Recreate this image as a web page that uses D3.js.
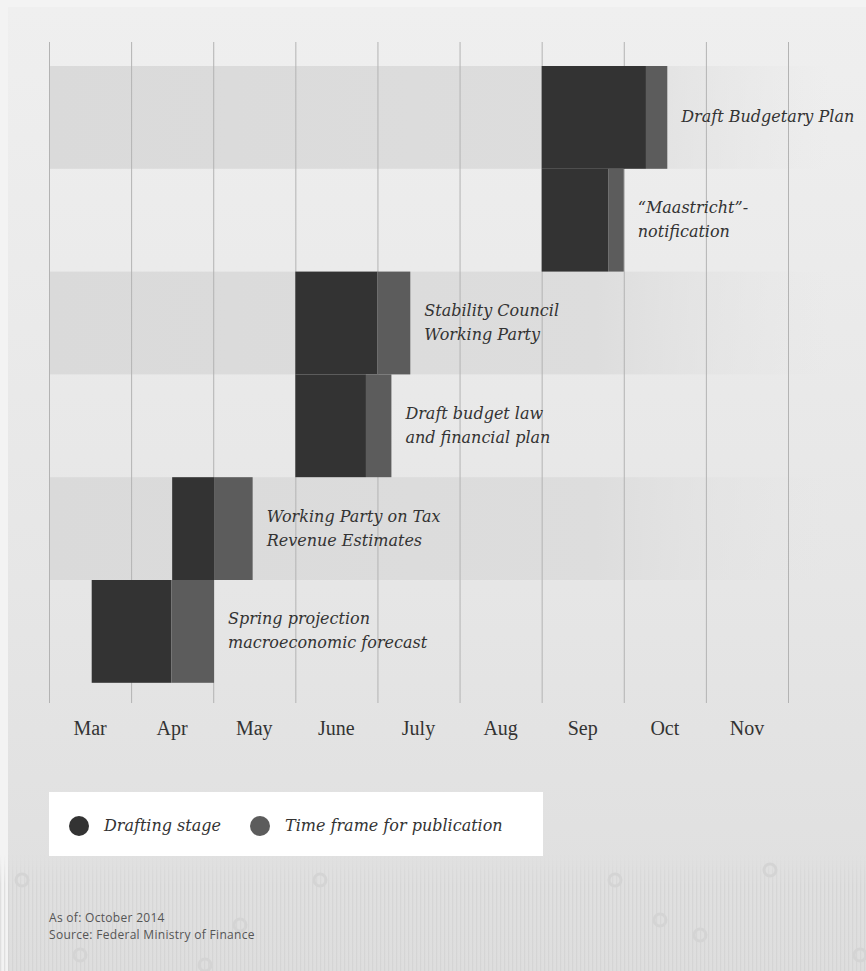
<!DOCTYPE html>
<html><head><meta charset="utf-8">
<script src="https://cdn.jsdelivr.net/npm/d3@7"></script>
<style>body{margin:0;background:#f4f4f4;}svg{display:block;}</style>
</head><body>
<script>
// ---- data (months: 0 = start of March) ----
const months = ["Mar","Apr","May","June","July","Aug","Sep","Oct","Nov"];
const tasks = ["Draft Budgetary Plan","\u201cMaastricht\u201d-|notification","Stability Council|Working Party","Draft budget law|and financial plan","Working Party on Tax|Revenue Estimates","Spring projection|macroeconomic forecast"];
const draftStart = [6.0, 6.0, 3.0, 3.0, 1.5, 0.52];
const draftEnd   = [7.27, 6.81, 4.0, 3.86, 2.01, 1.49];
const pubEnd     = [7.53, 7.0, 4.4, 4.17, 2.48, 2.01];
const legendLabels = ["Drafting stage","Time frame for publication"];
const footer = ["As of: October 2014","Source: Federal Ministry of Finance"];

const W = 866, H = 971;
const svg = d3.select("body").append("svg").attr("width", W).attr("height", H);
const defs = svg.append("defs");

// background
const bg = defs.append("linearGradient").attr("id","bg").attr("x1",0).attr("y1",0).attr("x2",0).attr("y2",1);
bg.append("stop").attr("offset","0%").attr("stop-color","#efefef");
bg.append("stop").attr("offset","60%").attr("stop-color","#e6e6e6");
bg.append("stop").attr("offset","100%").attr("stop-color","#dedede");
svg.append("rect").attr("width",W).attr("height",H).attr("fill","#f3f3f3");
svg.append("rect").attr("x",8).attr("y",7).attr("width",W-8).attr("height",H-7).attr("fill","url(#bg)");

// striped texture at bottom
const pat = defs.append("pattern").attr("id","stripes").attr("width",4).attr("height",10).attr("patternUnits","userSpaceOnUse");
pat.append("rect").attr("width",1.3).attr("height",10).attr("fill","#cfcfcf");
const fadeG = defs.append("linearGradient").attr("id","fadeStripe").attr("x1",0).attr("y1",0).attr("x2",0).attr("y2",1);
fadeG.append("stop").attr("offset","0%").attr("stop-color","#fff").attr("stop-opacity",0);
fadeG.append("stop").attr("offset","25%").attr("stop-color","#fff").attr("stop-opacity",1);
const mask = defs.append("mask").attr("id","stripeMask");
mask.append("rect").attr("x",0).attr("y",855).attr("width",W).attr("height",H-855).attr("fill","url(#fadeStripe)");
svg.append("rect").attr("x",0).attr("y",855).attr("width",W).attr("height",H-855)
  .attr("fill","url(#stripes)").attr("opacity",0.55).attr("mask","url(#stripeMask)");
// faint decorative rings
const rings = [[22,880],[320,880],[615,880],[660,920],[80,955],[205,965],[240,925],[700,935],[860,955],[770,870]];
svg.append("g").selectAll("circle").data(rings).join("circle")
  .attr("cx",d=>d[0]).attr("cy",d=>d[1]).attr("r",6)
  .attr("fill","none").attr("stroke","#d4d4d4").attr("stroke-width",3);

// scales
const x = d3.scaleLinear().domain([0, months.length]).range([49, 788]);
const rowTop = 66, rowH = 102.8;
const y = d3.scaleBand().domain(d3.range(tasks.length)).range([rowTop, rowTop + rowH*tasks.length]).padding(0);

// bands (alternating)
const bandG = defs.append("linearGradient").attr("id","band").attr("x1",0).attr("y1",0).attr("x2",1).attr("y2",0);
bandG.append("stop").attr("offset","0%").attr("stop-color","#dadada");
bandG.append("stop").attr("offset","70%").attr("stop-color","#dddddd");
bandG.append("stop").attr("offset","100%").attr("stop-color","#e4e4e4").attr("stop-opacity",0);
svg.append("g").selectAll("rect").data(d3.range(tasks.length).filter(i=>i%2===0)).join("rect")
  .attr("x",x(0)).attr("y",i=>y(i)).attr("width",830-x(0)).attr("height",y.bandwidth())
  .attr("fill","url(#band)");

// gridlines (axis)
const axis = d3.axisBottom(x).tickValues(d3.range(months.length+1)).tickSize(703-42).tickFormat("");
const ag = svg.append("g").attr("transform","translate(0,42)").call(axis);
ag.select(".domain").remove();
ag.selectAll(".tick line").attr("stroke","#b3b3b3").attr("stroke-width",1);

// month labels
svg.append("g").selectAll("text").data(months).join("text")
  .attr("x",(d,i)=>x(i+0.5)).attr("y",735).attr("text-anchor","middle")
  .attr("font-family","'Liberation Serif','Times New Roman',serif").attr("font-size",20)
  .attr("fill","#333").text(d=>d);

// bars
const bars = svg.append("g");
bars.selectAll("rect.draft").data(tasks).join("rect").attr("class","draft")
  .attr("x",(d,i)=>x(draftStart[i])).attr("y",(d,i)=>y(i))
  .attr("width",(d,i)=>x(draftEnd[i])-x(draftStart[i])).attr("height",y.bandwidth())
  .attr("fill","#333333");
bars.selectAll("rect.pub").data(tasks).join("rect").attr("class","pub")
  .attr("x",(d,i)=>x(draftEnd[i])).attr("y",(d,i)=>y(i))
  .attr("width",(d,i)=>x(pubEnd[i])-x(draftEnd[i])).attr("height",y.bandwidth())
  .attr("fill","#5c5c5c");

// labels
const lab = svg.append("g").selectAll("text").data(tasks).join("text")
  .attr("font-family","'DejaVu Serif',serif").attr("font-style","italic").attr("font-size",16)
  .attr("fill","#333");
lab.each(function(d,i){
  const lines = d.split("|");
  const t = d3.select(this);
  const cy = y(i) + y.bandwidth()/2;
  const x0 = x(pubEnd[i]) + 14;
  const startY = cy - (lines.length-1)*12 + 5;
  lines.forEach((l,k)=>{
    t.append("tspan").attr("x",x0).attr("y",startY + k*24).text(l);
  });
});

// legend
const lg = svg.append("g");
lg.append("rect").attr("x",49).attr("y",792).attr("width",494).attr("height",64).attr("fill","#ffffff");
const legendColors = ["#333333","#5c5c5c"];
const legendX = [79, 260];
lg.selectAll("circle").data(legendLabels).join("circle")
  .attr("cx",(d,i)=>legendX[i]).attr("cy",826).attr("r",10).attr("fill",(d,i)=>legendColors[i]);
lg.selectAll("text").data(legendLabels).join("text")
  .attr("x",(d,i)=>legendX[i]+25).attr("y",831)
  .attr("font-family","'DejaVu Serif',serif").attr("font-style","italic").attr("font-size",16)
  .attr("fill","#333").text(d=>d);

// footer
svg.append("g").selectAll("text").data(footer).join("text")
  .attr("x",49).attr("y",(d,i)=>922+i*17)
  .attr("font-family","'Open Sans','DejaVu Sans',sans-serif").attr("font-size",12)
  .attr("letter-spacing",0.3)
  .attr("fill","#555").text(d=>d);
</script>
</body></html>
